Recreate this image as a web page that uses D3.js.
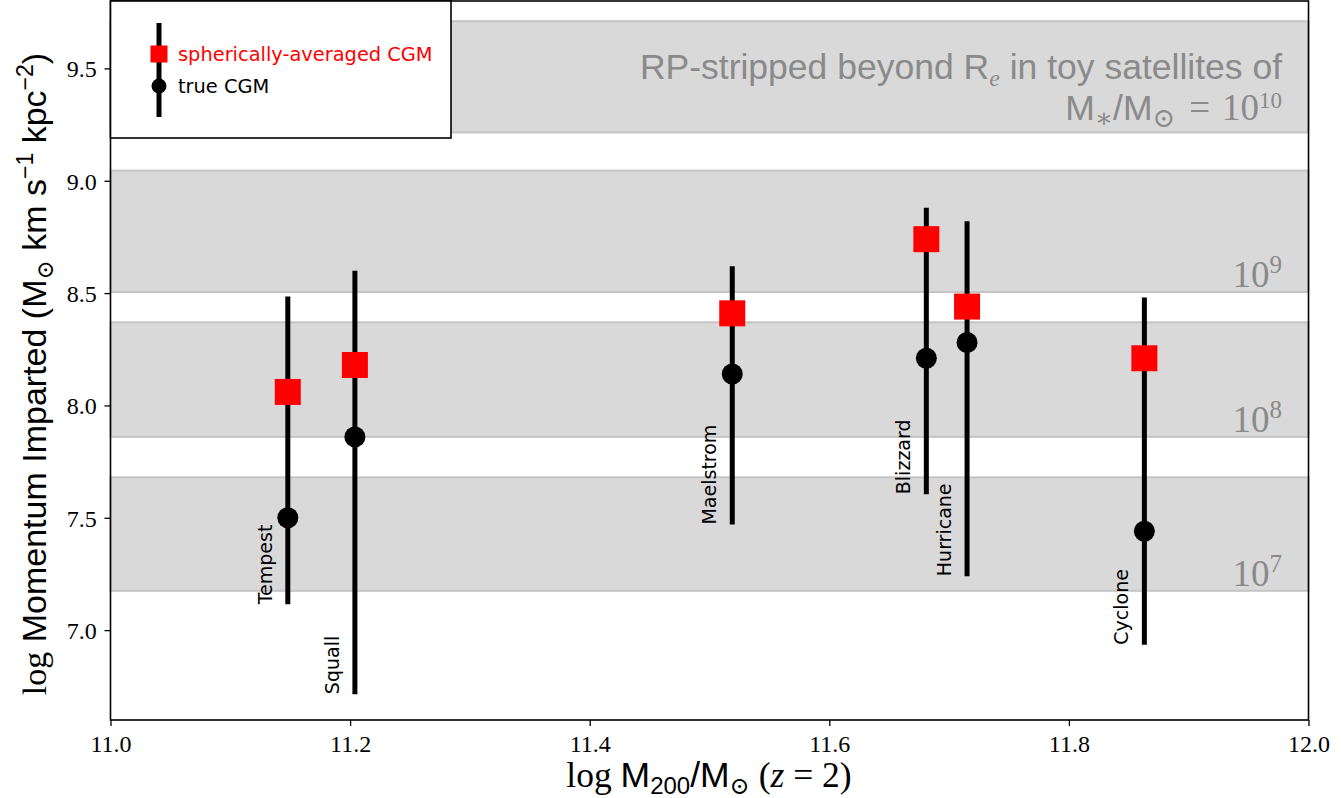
<!DOCTYPE html>
<html><head><meta charset="utf-8">
<script src="https://cdn.jsdelivr.net/npm/d3@7"></script>
<style>body{margin:0;background:#fff}svg{display:block}</style>
</head><body>
<svg id="chart" width="1341" height="798"></svg>
<script>
const names = ["Tempest","Squall","Maelstrom","Blizzard","Hurricane","Cyclone"];
const haloMass = [11.148, 11.204, 11.519, 11.681, 11.715, 11.863];
const sphericalCGM = [8.06, 8.18, 8.41, 8.74, 8.44, 8.21];
const trueCGM = [7.50, 7.86, 8.14, 8.21, 8.28, 7.44];
const errLow = [7.115, 6.715, 7.47, 7.605, 7.24, 6.935];
const errHigh = [8.485, 8.60, 8.62, 8.88, 8.82, 8.48];
const bandLow = [9.215, 8.505, 7.86, 7.175];
const bandHigh = [9.71, 9.045, 8.37, 7.68];
const bandExp = ["10", "9", "8", "7"];
const xTicks = [11.0, 11.2, 11.4, 11.6, 11.8, 12.0];
const yTicks = [7.0, 7.5, 8.0, 8.5, 9.0, 9.5];

const svg = d3.select("#chart");
const L = 110.5, R = 1308.5, T = 1, B = 720;
const x = d3.scaleLinear().domain([11, 12]).range([L, R]);
const y = d3.scaleLinear().domain([6.6, 9.8]).range([B, T]);
const serif = "'Liberation Serif', 'DejaVu Serif', serif";
const sans = "'DejaVu Sans', sans-serif";
const sans2 = "'Liberation Sans', 'DejaVu Sans', sans-serif";
const grey = "#8a8a8a";

// bands
const bands = bandLow.map((d,i)=>({lo:d, hi:bandHigh[i], e:bandExp[i]}));
svg.append("g").selectAll("rect").data(bands).join("rect")
  .attr("x", L).attr("width", R-L)
  .attr("y", d=>y(d.hi)).attr("height", d=>y(d.lo)-y(d.hi))
  .attr("fill", "#d9d9d9").attr("stroke", "#c4c4c4").attr("stroke-width", 2);

// band labels (10^9, 10^8, 10^7)
const bl = svg.append("g");
bands.slice(1).forEach(d=>{
  const t = bl.append("text").attr("x", 1282).attr("y", y(d.lo) - 5)
    .attr("text-anchor","end").attr("font-family", serif).attr("font-size", 37).attr("fill", grey);
  t.append("tspan").text("10");
  t.append("tspan").attr("dy", -14).attr("font-size", 25).text(d.e);
});
// top band label
const t1 = svg.append("text").attr("x", 1282).attr("y", 79).attr("text-anchor","end")
  .attr("font-family", sans2).attr("font-size", 35.5).attr("fill", grey);
t1.append("tspan").text("RP-stripped beyond R");
t1.append("tspan").attr("dy", 7).attr("font-family", serif).attr("font-style","italic").attr("font-size", 24).text("e");
t1.append("tspan").attr("dy", -7).text(" in toy satellites of");
const t2 = svg.append("text").attr("x", 1282).attr("y", 120).attr("text-anchor","end")
  .attr("font-family", sans2).attr("font-size", 35.5).attr("fill", grey);
t2.append("tspan").text("M");
t2.append("tspan").attr("dy", 7).attr("font-family", serif).attr("font-size", 27).text("∗");
t2.append("tspan").attr("dy", -7).text("/M");
t2.append("tspan").attr("dy", 7).attr("font-family", serif).attr("font-size", 27).text("⊙");
t2.append("tspan").attr("dy", -7).attr("dx", 14).attr("font-family", serif).attr("font-size", 37).text("=");
t2.append("tspan").attr("dx", 12).attr("font-family", serif).attr("font-size", 37).text("10");
t2.append("tspan").attr("dy", -12).attr("font-family", serif).attr("font-size", 23).text(bandExp[0]);

// data
const data = names.map((n,i)=>({n, x:haloMass[i], s:sphericalCGM[i], t:trueCGM[i], lo:errLow[i], hi:errHigh[i]}));
const g = svg.append("g");
g.selectAll("line.err").data(data).join("line").attr("class","err")
  .attr("x1", d=>x(d.x)).attr("x2", d=>x(d.x)).attr("y1", d=>y(d.lo)).attr("y2", d=>y(d.hi))
  .attr("stroke","#000").attr("stroke-width", 5);
g.selectAll("circle").data(data).join("circle")
  .attr("cx", d=>x(d.x)).attr("cy", d=>y(d.t)).attr("r", 10.5).attr("fill","#000");
g.selectAll("rect").data(data).join("rect")
  .attr("x", d=>x(d.x)-13).attr("y", d=>y(d.s)-13).attr("width", 26).attr("height", 26).attr("fill","#ff0000");
g.selectAll("text").data(data).join("text")
  .attr("transform", d=>`translate(${x(d.x)-16},${y(d.lo)}) rotate(-90)`)
  .attr("font-family", sans).attr("font-size", 19).attr("fill","#000").text(d=>d.n);

// axes
const xa = svg.append("g").attr("transform", `translate(0,${B})`)
  .call(d3.axisBottom(x).tickValues(xTicks).tickFormat(d3.format(".1f")).tickSize(6).tickSizeOuter(0));
const ya = svg.append("g").attr("transform", `translate(${L},0)`)
  .call(d3.axisLeft(y).tickValues(yTicks).tickFormat(d3.format(".1f")).tickSize(6).tickSizeOuter(0));
[xa, ya].forEach(a=>{
  a.select(".domain").remove();
  a.selectAll("line").attr("stroke","#000").attr("stroke-width",1.3);
  a.selectAll("text").attr("font-family", serif).attr("font-size", 24).attr("fill","#000");
});
xa.selectAll("text").attr("dy", "0.95em");
ya.selectAll("text").attr("dx", "-0.2em").attr("dy", "0.35em");

// frame
svg.append("rect").attr("x", L).attr("y", T).attr("width", R-L).attr("height", B-T)
  .attr("fill","none").attr("stroke","#000").attr("stroke-width", 1.6);

// legend
const lg = svg.append("g");
lg.append("rect").attr("x", L).attr("y", T).attr("width", 340.5).attr("height", 137)
  .attr("fill","#fff").attr("stroke","#000").attr("stroke-width",1.6);
lg.append("line").attr("x1",159).attr("x2",159).attr("y1",23).attr("y2",117).attr("stroke","#000").attr("stroke-width",5);
lg.append("rect").attr("x",159-8.5).attr("y",54-8.5).attr("width",17).attr("height",17).attr("fill","#ff0000");
lg.append("circle").attr("cx",159).attr("cy",86).attr("r",7.5).attr("fill","#000");
lg.append("text").attr("x",178).attr("y",61).attr("font-family",sans).attr("font-size",19.4).attr("fill","#ff0000").text("spherically-averaged CGM");
lg.append("text").attr("x",178).attr("y",93).attr("font-family",sans).attr("font-size",19.4).attr("fill","#000").text("true CGM");

// y title
const yt = svg.append("text").attr("transform","translate(46,374) rotate(-90)").attr("text-anchor","middle")
  .attr("font-family", sans2).attr("font-size", 34).attr("fill","#000");
yt.append("tspan").attr("font-family", serif).text("log");
yt.append("tspan").text(" Momentum Imparted (M");
yt.append("tspan").attr("dy",7).attr("font-family", serif).attr("font-size",23).text("⊙");
yt.append("tspan").attr("dy",-7).text(" km s");
yt.append("tspan").attr("dy",-13).attr("font-size",23).text("−1");
yt.append("tspan").attr("dy",13).text(" kpc");
yt.append("tspan").attr("dy",-13).attr("font-size",23).text("−2");
yt.append("tspan").attr("dy",13).text(")");

// x title
const xt = svg.append("text").attr("x",709).attr("y",787).attr("text-anchor","middle")
  .attr("font-family", sans2).attr("font-size", 35.5).attr("fill","#000");
xt.append("tspan").attr("font-family", serif).text("log ");
xt.append("tspan").text("M");
xt.append("tspan").attr("dy",7).attr("font-size",24).text("200");
xt.append("tspan").attr("dy",-7).text("/M");
xt.append("tspan").attr("dy",7).attr("font-family", serif).attr("font-size",24).text("⊙");
xt.append("tspan").attr("dy",-7).attr("font-family", serif).text(" (");
xt.append("tspan").attr("font-family", serif).attr("font-style","italic").text("z");
xt.append("tspan").attr("font-family", serif).text(" = 2)");
</script>
</body></html>
